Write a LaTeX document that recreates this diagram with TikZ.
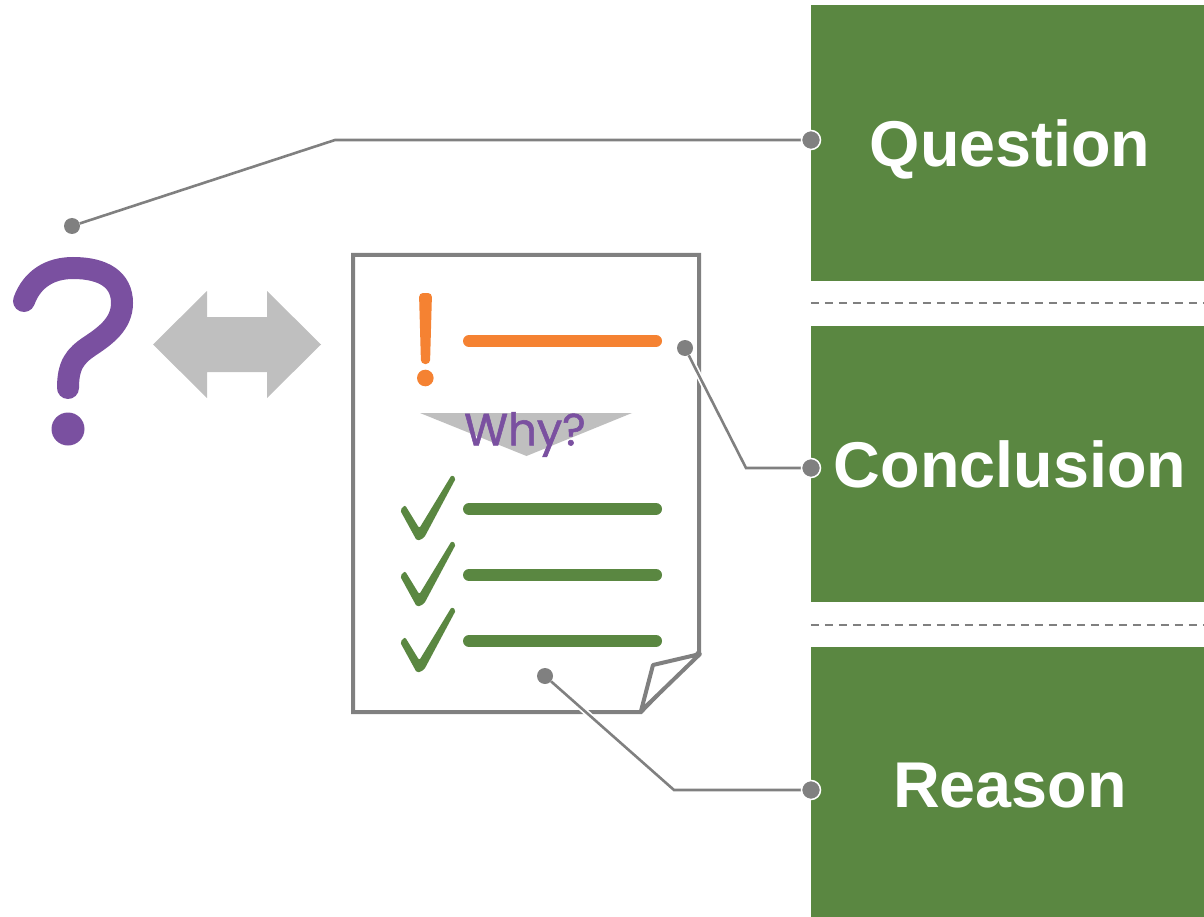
\documentclass[tikz,border=0pt]{standalone}
\usepackage{fontspec}
\setmainfont{Liberation Sans}
\newfontfamily\whyfont[FakeBold=1.2]{Poppins}
\usetikzlibrary{positioning}
\definecolor{mgreen}{RGB}{90,135,65}
\definecolor{morange}{RGB}{245,130,50}
\definecolor{mpurple}{RGB}{122,80,160}
\definecolor{mgray}{RGB}{128,128,128}
\definecolor{mlight}{RGB}{191,191,191}

\begin{document}
\begin{tikzpicture}[x=1pt, y=-1pt,
    part/.style={fill=mgreen, text=white, inner sep=0pt, minimum width=398pt, font=\fontsize{64.7}{64.7}\selectfont\bfseries, text height=47pt, text depth=0pt},
    dot/.style={circle, fill=mgray, inner sep=0pt, minimum size=16pt},
    port/.style={dot, draw=white, line width=1.5pt, minimum size=19pt},
    leader/.style={mgray, line width=2.6pt, preaction={draw=white, line width=6pt}},
    divider/.style={mgray, line width=2pt, dash pattern=on 8pt off 6pt},
    textline/.style={line width=12pt, line cap=round},
]
    \useasboundingbox (0,0) rectangle (1204,917);

    \node[part, minimum height=276pt] (question) at (1010,143) {Question};
    \node[part, minimum height=276pt, below=45pt of question] (conclusion) {Conclusion};
    \node[part, minimum height=270pt, text height=51pt, below=44.6pt of conclusion] (reason) {Reason};

    \draw[divider] (question.south west) ++(0,22) coordinate (d1) -- (d1 -| question.east);
    \draw[divider] (conclusion.south west) ++(0,22) coordinate (d2) -- (d2 -| conclusion.east);

    % the big question mark
    \draw[mpurple, line width=22pt, line cap=round] (24,301) .. controls (32,279) and (50,268) .. (73,268)
        .. controls (104,268) and (122,280) .. (122,303)
        .. controls (122,324) and (105,336) .. (90,346)
        .. controls (75,356) and (68,365) .. (68,388);
    \fill[mpurple] (68,429) circle (16.5);

    \fill[mlight] (153,344.5) -- (207,291) -- (207,317) -- (267,317) -- (267,291) -- (321,344.5)
        -- (267,398) -- (267,372) -- (207,372) -- (207,398) -- cycle;

    % the sheet
    \draw[mgray, line width=4pt, fill=white] (353,255) -- (699,255) -- (699,652) -- (641,712) -- (353,712) -- cycle;
    \draw[mgray, line width=4pt, fill=white, line join=round] (641,711) -- (653,665) -- (700,654) -- cycle;

    \fill[morange, rounded corners=4pt] (419,293) -- (432,293) -- (430,364) -- (421,364) -- cycle;
    \fill[morange] (425.3,378) circle (8.3);
    \draw[textline, morange] (469,341) -- (656,341);

    \fill[mlight] (420,413) -- (632,413) -- (526.5,456) -- cycle;
    \node[mpurple, font=\fontsize{45}{45}\whyfont] (why) at (525,434.5) {Why?};

    \foreach \y in {0,66,132} {
        \fill[mgreen, rounded corners=2pt, shift={(0,\y)}] (400,510) -- (405,505) -- (419.3,528.3) -- (451.7,475) -- (456,478)
            -- (424,538) -- (417,541) -- cycle;
        \draw[textline, mgreen] (469,509+\y) -- (656,509+\y);
    }

    % leaders
    \node[dot] (qdot) at (72,226) {};
    \node[dot] (cdot) at (685,348) {};
    \node[dot] (rdot) at (545,676) {};
    \coordinate (qbend) at (335,140);
    \coordinate (cbend) at (746,468);
    \coordinate (rbend) at (674,790);
    \coordinate (qend) at (811,140);
    \coordinate (cend) at (811,468);
    \coordinate (rend) at (811,790);

    \draw[leader] (qdot) -- (qbend) -- (qend);
    \draw[leader] (cdot) -- (cbend) -- (cend);
    \draw[leader] (rdot) -- (rbend) -- (rend);

    \node[port] (qport) at (qend) {};
    \node[port] (cport) at (cend) {};
    \node[port] (rport) at (rend) {};
\end{tikzpicture}
\end{document}
